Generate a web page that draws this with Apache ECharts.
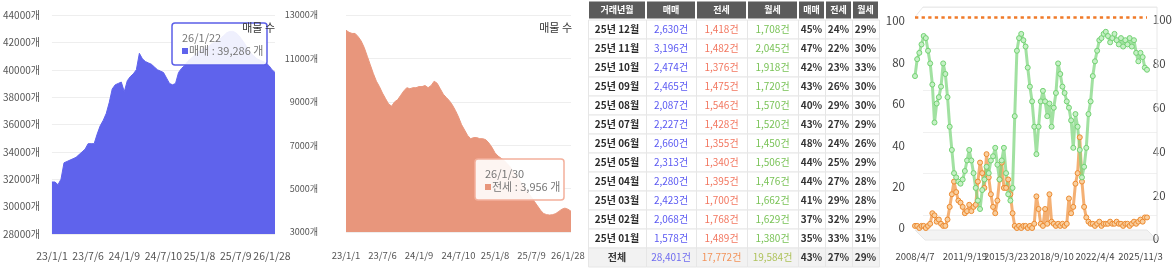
<!DOCTYPE html>
<html><head><meta charset="utf-8">
<script src="https://cdn.jsdelivr.net/npm/echarts@6/dist/echarts.min.js"></script>
<style>html,body{margin:0;padding:0;background:#fff}#c{width:1175px;height:275px}</style>
</head><body><div id="c"></div>
<script>
// ---------- data: listing counts (panels 1 & 2) ----------
const dates = ['23/1/1','23/1/16','23/2/1','23/2/16','23/3/1','23/3/16','23/4/1','23/4/16','23/5/1','23/5/16',
  '23/6/1','23/6/16','23/7/6','23/7/16','23/8/1','23/8/16','23/9/1','23/9/16','23/10/1','23/10/16',
  '23/11/1','23/11/16','23/12/1','23/12/16','24/1/9','24/1/16','24/2/1','24/2/16','24/3/1','24/3/16',
  '24/4/1','24/4/16','24/5/1','24/5/16','24/6/1','24/6/16','24/7/1','24/7/10','24/8/1','24/8/16',
  '24/9/1','24/9/16','24/10/1','24/10/16','24/11/1','24/11/16','24/12/1','24/12/16','25/1/1','25/1/8',
  '25/2/1','25/2/16','25/3/1','25/3/16','25/4/1','25/4/16','25/5/1','25/5/16','25/6/1','25/6/16',
  '25/7/1','25/7/9','25/8/1','25/8/16','25/9/1','25/9/16','25/10/1','25/10/16','25/11/1','25/11/16',
  '25/12/1','25/12/16','26/1/1','26/1/28','26/1/30'];
const dateTicks = ['23/1/1','23/7/6','24/1/9','24/7/10','25/1/8','25/7/9','26/1/28'];
const saleListings = [31800,31800,31600,32000,33200,33300,33400,33500,33600,33800,
  34000,34200,34600,34600,34600,35300,35900,36300,36800,37600,
  38600,38900,39000,39100,38400,39200,39500,39700,40000,41200,
  40800,40600,40500,40400,40200,40000,39900,39800,39400,39000,
  38900,39000,39800,40100,40300,40600,40800,41000,41200,41400,
  41500,41600,41700,41900,42000,42100,42300,42500,42700,42800,
  42800,42700,42500,42200,41900,41500,41200,41000,40800,40700,
  40600,40500,40300,40000,39800];
const jeonseListings = [12300,12200,12150,12150,12000,11800,11500,11100,10700,10300,
  9950,9700,9400,9150,8900,8800,9000,9100,9300,9500,
  9650,9600,9650,9650,9700,9700,9750,9650,9750,9950,
  9850,9600,9350,9200,9050,8850,8600,8300,7950,7700,
  7450,7300,7350,7350,7300,7300,7250,7100,6900,6650,
  6500,6400,6300,6150,6000,5800,5600,5400,5200,5000,
  4800,4600,4400,4200,4000,3850,3800,3780,3800,3850,
  3950,4050,4100,4050,3956];
const saleTip = {date:'26/1/22', name:'매매', value:39286};
const jeonseTip = {date:'26/1/30', name:'전세', value:3956};

// ---------- data: ratio chart (panel 4) ----------
const ratioDates = ['2008/4/7','2008/6','2008/8','2008/10','2008/12','2009/1','2009/3','2009/5','2009/7','2009/9',
  '2009/10','2009/12','2010/2','2010/4','2010/5','2010/7','2010/9','2010/11','2010/12','2011/2',
  '2011/4','2011/6','2011/7','2011/9/19','2011/12','2012/2','2012/4','2012/6','2012/8','2012/10',
  '2013/1','2013/3','2013/5','2013/7','2013/9','2013/11','2014/1','2014/4','2014/6','2014/8',
  '2014/10','2015/1','2015/3/23','2015/5','2015/7','2015/9','2015/11','2016/1','2016/3','2016/5',
  '2016/7','2016/9','2016/11','2017/1','2017/3','2017/5','2017/7','2017/9','2017/11','2018/1',
  '2018/3','2018/5','2018/7','2018/9/10','2018/11','2019/1','2019/3','2019/5','2019/7','2019/9',
  '2019/11','2020/1','2020/3','2020/5','2020/7','2020/9','2020/11','2021/2','2021/4','2021/6',
  '2021/8','2021/10','2022/1','2022/4/4','2022/6','2022/8','2022/10','2022/12','2023/2','2023/4',
  '2023/6','2023/8','2023/10','2023/12','2024/2','2024/4','2024/6','2024/8','2024/10','2024/12',
  '2025/2','2025/4','2025/6','2025/8','2025/11/3','2025/12','2026/1','2026/1/26'];
const ratioTicks = ['2008/4/7','2011/9/19','2015/3/23','2018/9/10','2022/4/4','2025/11/3'];
const greenRatio = [72,80,83,87,91,
  90,84,78,68,50,59, 62,67,78,73,62,48, 37,26,24,22,21,23, 27,32,37,32,26,19,
  13,9,18,23,29,26, 32,34,38,30,23,32, 38,26,16,13,19,53, 84,90,92,89,86,76,
  67,60,48,35,48,60, 65,60,53,59,48,57, 64,78,73,67,64,60, 57,51,38,54,48,37,
  24,29,38,54,60,72, 79,84,89,90,92,93, 91,88,90,92,89,87, 90,86,89,87,90,86,
  89,83,79,83,81,76, 75];
const orangeRatio = [1,1,0,1,1,
  0,1,2,7,6,3, 4,2,1,1,4,10, 16,22,17,13,12,10, 7,8,11,8,10,11,
  22,31,26,19,35,24, 16,10,7,13,23,31, 19,19,23,16,7,1, 0,1,0,1,1,0,
  1,0,2,15,9,2, 1,9,2,16,3,2, 1,2,1,2,1,2, 14,7,10,21,26,43,
  22,10,5,3,2,2, 1,2,3,1,2,2, 2,3,2,2,3,2, 2,1,2,2,1,2,
  3,2,3,4,3,5, 5];
const ratioCap = 100;

// ---------- data: monthly table ----------
const tableHeader = ['거래년월','매매','전세','월세','매매','전세','월세'];
const months = ['25년 12월','25년 11월','25년 10월','25년 09월','25년 08월','25년 07월','25년 06월','25년 05월','25년 04월','25년 03월','25년 02월','25년 01월'];
const saleDeals = [2630,3196,2474,2465,2087,2227,2660,2313,2280,2423,2068,1578];
const jeonseDeals = [1418,1482,1376,1475,1546,1428,1355,1340,1395,1700,1768,1489];
const wolseDeals = [1708,2045,1918,1720,1570,1520,1450,1506,1476,1662,1629,1380];
const salePct = [45,47,42,43,40,43,48,44,44,41,37,35];
const jeonsePct = [24,22,23,26,29,27,24,25,27,29,32,33];
const wolsePct = [29,30,33,30,30,29,26,29,28,28,29,31];
const totalLabel = '전체';
const totalDeals = [28401,17772,19584];
const totalPct = [43,27,29];

// ---------- build ----------
const FONT = "'Noto Sans CJK KR','Noto Sans',sans-serif";
const NARROW = "'Liberation Sans Narrow','DejaVu Sans Condensed','Noto Sans CJK KR',sans-serif";
const fmt = n => n.toLocaleString('en-US');
const tickSet1 = new Set(dateTicks);
const tickSet4 = new Set(ratioTicks);
const colEdges = [0,58,108,159,210,237,264,291];
const rowNames = [tableHeader[0]].concat(months, [totalLabel]);

const cells = [];
tableHeader.forEach((h,c)=>cells.push({value:[c,0], text:h, kind:'head'}));
months.forEach((m,r)=>{
  [m, fmt(saleDeals[r])+'건', fmt(jeonseDeals[r])+'건', fmt(wolseDeals[r])+'건',
   salePct[r]+'%', jeonsePct[r]+'%', wolsePct[r]+'%'].forEach((t,c)=>cells.push({value:[c,r+1], text:t, kind:'body'}));
});
[totalLabel, fmt(totalDeals[0])+'건', fmt(totalDeals[1])+'건', fmt(totalDeals[2])+'건',
 totalPct[0]+'%', totalPct[1]+'%', totalPct[2]+'%'].forEach((t,c)=>cells.push({value:[c,months.length+1], text:t, kind:'total'}));

const bodyColors = ['#2a2a2a','#5a58f2','#f2765f','#78c255','#333','#333','#333'];
const totalColors = ['#333','#6f6cf0','#f2935a','#aec25a','#333','#333','#333'];

function renderCell(params, api){
  const c = api.value(0), r = api.value(1);
  const cell = cells[params.dataIndex];
  const a = api.coord([colEdges[c], r]), b = api.coord([colEdges[c+1], r]);
  const h = api.size([0,1])[1];
  const x = a[0], w = b[0]-a[0], y = a[1]-h/2;
  let rect, txt;
  if (cell.kind === 'head') {
    rect = {type:'rect', shape:{x:x+1, y:y+1, width:w-2, height:h-2}, style:{fill:'#5b5b5b'}};
    txt = {fill:'#fff', font:"bold 9px "+FONT};
  } else {
    rect = {type:'rect', shape:{x:x+0.5, y:y+0.5, width:w, height:h},
      style:{fill: cell.kind==='total' ? '#f2f2f2' : '#fff', stroke:'#e6e6e6', lineWidth:1}};
    const bold = (c===0 || c>=4);
    txt = {fill: (cell.kind==='total'?totalColors:bodyColors)[c], font:(bold?'bold ':'')+'10px '+FONT};
  }
  return {type:'group', children:[rect,
    {type:'text', style:Object.assign({text:cell.text, x:x+w/2, y:a[1], align:'center', verticalAlign:'middle'}, txt)}]};
}

function tipBox(x, y, w, h, border, sw, tip){
  const Z = 50;
  return {type:'group', children:[
    {type:'rect', z:Z, shape:{x:x, y:y, width:w, height:h, r:3}, style:{fill:'rgba(255,255,255,0.9)', stroke:border, lineWidth:1.5}},
    {type:'text', z:Z+1, style:{text:tip.date, x:x+10, y:y+15, verticalAlign:'middle', fill:'#777', font:'11px '+FONT}},
    {type:'rect', z:Z+1, shape:{x:x+10, y:y+25, width:6, height:6}, style:{fill:sw}},
    {type:'text', z:Z+1, style:{text:tip.name+' : '+fmt(tip.value)+' 개', x:x+17, y:y+28, verticalAlign:'middle', fill:'#777', font:'11px '+FONT}}
  ]};
}

const labelGrey = '#555';
const hiddenAxis = {axisLine:{show:false}, axisTick:{show:false}, splitLine:{show:false}};
const option = {
  animation:false,
  textStyle:{fontFamily:FONT},
  title:[
    {text:'매물 수', right:900, top:22, padding:0, z:60, textStyle:{fontSize:11, fontWeight:'normal', color:'#333'}},
    {text:'매물 수', right:603, top:22, padding:0, z:60, textStyle:{fontSize:11, fontWeight:'normal', color:'#333'}}
  ],
  grid:[
    {left:50, right:900, top:15, bottom:41},
    {left:346, right:604, top:15, bottom:43},
    {left:915, right:28, top:17, bottom:47},
    {left:588, right:296, top:0.5, height:266},
    {left:923, right:18, top:20, bottom:36},
    {left:923, right:18, top:7, bottom:60},
    {left:915, right:28, top:21, bottom:47}
  ],
  xAxis:[
    {gridIndex:0, type:'category', data:dates, boundaryGap:false, axisLine:{show:false}, axisTick:{show:false},
      axisLabel:{interval:(i,v)=>tickSet1.has(v), hideOverlap:false, showMinLabel:true, showMaxLabel:true, color:labelGrey, fontSize:10.5, margin:17}},
    {gridIndex:1, type:'category', data:dates, boundaryGap:false, axisLine:{show:false}, axisTick:{show:false},
      axisLabel:{interval:(i,v)=>tickSet1.has(v), hideOverlap:false, showMinLabel:true, showMaxLabel:true, color:labelGrey, fontSize:9.5, margin:19}},
    {gridIndex:2, type:'category', data:ratioDates, boundaryGap:false, axisLine:{show:false}, axisTick:{show:false},
      axisLabel:{interval:(i,v)=>tickSet4.has(v), hideOverlap:false, showMinLabel:true, showMaxLabel:true, color:'#444', fontSize:9.5, margin:24}},
    {gridIndex:3, type:'value', min:0, max:colEdges[colEdges.length-1], show:false},
    {gridIndex:4, type:'value', show:false},
    {gridIndex:5, type:'value', show:false},
    {gridIndex:6, type:'value', show:false}
  ],
  yAxis:[
    {gridIndex:0, type:'value', min:28000, max:44000, interval:2000, axisLine:{show:false}, axisTick:{show:false},
      axisLabel:{formatter:v=>v+'개', color:labelGrey, fontSize:10, margin:12}, splitLine:{lineStyle:{color:'#eeeeee'}}},
    {gridIndex:1, type:'value', min:3000, max:13000, interval:2000, axisLine:{show:false}, axisTick:{show:false},
      axisLabel:{formatter:v=>v+'개', color:labelGrey, fontSize:9, margin:28}, splitLine:{lineStyle:{color:'#eeeeee'}}},
    Object.assign({gridIndex:2, type:'value', min:0, max:100, interval:20, axisLabel:{show:false}}, hiddenAxis),
    {gridIndex:3, type:'category', data:rowNames, inverse:true, show:false},
    Object.assign({gridIndex:4, type:'value', position:'right', min:0, max:100, interval:20,
      axisLabel:{color:'#444', fontSize:11.5, margin:4}}, hiddenAxis),
    {gridIndex:5, type:'value', min:0, max:100, interval:20, axisLine:{show:false}, axisTick:{show:false},
      axisLabel:{show:false}, splitLine:{lineStyle:{color:'#f0f0f0'}}},
    Object.assign({gridIndex:6, type:'value', min:0, max:100, interval:20,
      axisLabel:{color:'#444', fontSize:11.5, margin:10}}, hiddenAxis)
  ],
  series:[
    {type:'line', xAxisIndex:0, yAxisIndex:0, data:saleListings, symbol:'none',
      lineStyle:{color:'#5f63ec', width:1}, areaStyle:{color:'#5f63ec', opacity:1, origin:'start'}},
    {type:'line', xAxisIndex:1, yAxisIndex:1, data:jeonseListings, symbol:'none',
      lineStyle:{color:'#e8967c', width:1}, areaStyle:{color:'#e8967c', opacity:1, origin:'start'}},
    {type:'line', xAxisIndex:2, yAxisIndex:2, data:orangeRatio, symbol:'circle', symbolSize:5, showAllSymbol:true,
      lineStyle:{color:'rgba(240,150,70,0.75)', width:3}, itemStyle:{color:'#f9cf9f', borderColor:'#ec8a30', borderWidth:1},
      markLine:{silent:true, symbol:'none', label:{show:false}, data:[{yAxis:ratioCap}],
        lineStyle:{color:'#f07a28', width:2.5, type:[3.3,3.3]}}},
    {type:'line', xAxisIndex:2, yAxisIndex:2, data:greenRatio, symbol:'circle', symbolSize:5, showAllSymbol:true,
      lineStyle:{color:'rgba(130,215,130,0.75)', width:3}, itemStyle:{color:'#c6f0c6', borderColor:'#72d172', borderWidth:1}},
    {type:'custom', xAxisIndex:3, yAxisIndex:3, data:cells, renderItem:renderCell}
  ],
  graphic:[
    tipBox(172, 23, 95, 42, '#5b5fe8', '#5f63ec', saleTip),
    tipBox(475, 159, 89, 41, '#f3b09c', '#e8967c', jeonseTip),
    {type:'polyline', z:1, shape:{points:[[915,17],[923,7],[1157,7],[1157,240]]}, style:{stroke:'#e8e8e8', lineWidth:1, fill:null}},
    {type:'polygon', z:0, shape:{points:[[915,230],[1147,230],[1157,240],[925,240]]}, style:{fill:'#f3f3f3', stroke:'#e6e6e6', lineWidth:1}}
  ]
};
const chart = echarts.init(document.getElementById('c'));
chart.setOption(option);
</script></body></html>
